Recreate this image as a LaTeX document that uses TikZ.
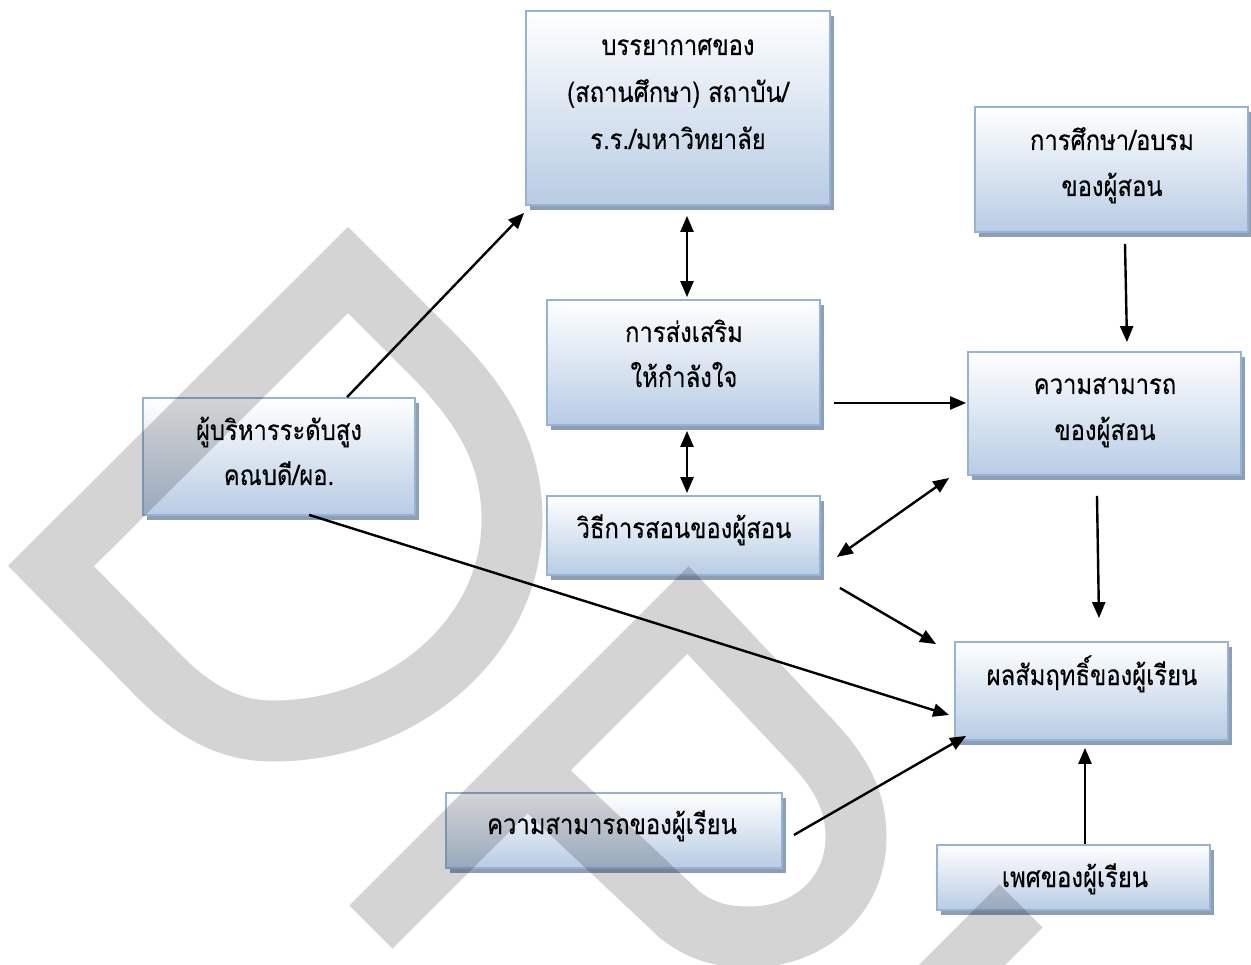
\documentclass[tikz,border=0pt]{standalone}
\usepackage{fontspec}
\newfontfamily\thai[Script=Thai,FakeStretch=0.85,FakeBold=0.25]{Loma}
\usetikzlibrary{shadows,arrows.meta,calc}
\definecolor{boxline}{HTML}{95B3D7}
\definecolor{boxbot}{HTML}{B8CCE4}
\definecolor{shadowc}{HTML}{8E9EB3}
\begin{document}
\begin{tikzpicture}[x=1pt,y=-1pt,
  box/.style={rectangle, draw=boxline, line width=1.8pt, top color=white, bottom color=boxbot, inner sep=0pt,
    drop shadow={shadow xshift=4pt, shadow yshift=-5pt, fill=shadowc, opacity=1}},
  txt/.style={anchor=base, inner sep=0pt, font=\thai\fontsize{28}{32}\selectfont},
  arr/.style={line width=2.4pt, -{Triangle[length=16pt,width=13pt]}},
  darr/.style={line width=2.4pt, {Triangle[length=16pt,width=13pt]}-{Triangle[length=16pt,width=13pt]}},
  wm/.style={line width=61pt, draw=black, draw opacity=0.17, line join=miter}]
\useasboundingbox (0,0) rectangle (1251,965);

% boxes
\node[box, minimum width=304pt, minimum height=194pt] (top) at (678,108) {};
\node[box, minimum width=273pt, minimum height=125pt] (train) at (1111.5,169.5) {};
\node[box, minimum width=273pt, minimum height=125pt] (promote) at (683.5,362.5) {};
\node[box, minimum width=272pt, minimum height=117pt] (boss) at (279,456.5) {};
\node[box, minimum width=273pt, minimum height=123pt] (tcap) at (1104.5,413.5) {};
\node[box, minimum width=273pt, minimum height=79pt] (method) at (683.5,535.5) {};
\node[box, minimum width=273pt, minimum height=98pt] (achieve) at (1091.5,691) {};
\node[box, minimum width=336pt, minimum height=75pt] (scap) at (614,830.5) {};
\node[box, minimum width=273pt, minimum height=65pt] (gender) at (1073.5,877.5) {};

% texts
\node[txt] (top1) at (678,55) {บรรยากาศของ};
\node[txt] (top2) at (678,102) {(สถานศึกษา) สถาบัน/};
\node[txt] (top3) at (678,149) {ร.ร./มหาวิทยาลัย};
\node[txt] (train1) at (1112,150) {การศึกษา/อบรม};
\node[txt] (train2) at (1112,196) {ของผู้สอน};
\node[txt] (prom1) at (684,342) {การส่งเสริม};
\node[txt] (prom2) at (684,387) {ให้กำลังใจ};
\node[txt] (boss1) at (279,440) {ผู้บริหารระดับสูง};
\node[txt] (boss2) at (279,485) {คณบดี/ผอ.};
\node[txt] (tcap1) at (1105,394) {ความสามารถ};
\node[txt] (tcap2) at (1105,440) {ของผู้สอน};
\node[txt] (meth1) at (684,538) {วิธีการสอนของผู้สอน};
\node[txt] (ach1) at (1092,685) {ผลสัมฤทธิ์ของผู้เรียน};
\node[txt] (scap1) at (612,834) {ความสามารถของผู้เรียน};
\node[txt] (gen1) at (1075,887) {เพศของผู้เรียน};

% connectors
\draw[arr] ($(boss.north west)+(205,0)$) -- ($(top.south west)+(-1,7)$);
\draw[arr] ($(boss.south west)+(167,-1)$) -- ($(achieve.west)+(-5,24)$);
\draw[darr] ($(top.south)+(9,10)$) -- ($(promote.north)+(3.5,-2)$);
\draw[darr] ($(promote.south)+(3.5,5)$) -- ($(method.north)+(3.5,-2)$);
\draw[arr] ($(promote.east)+(13,40.5)$) -- ($(tcap.west)+(-1,-10.5)$);
\draw[arr] ($(train.south)+(13.5,11)$) -- ($(tcap.north)+(22.5,-9)$);
\draw[darr] ($(method.east)+(16,21.5)$) -- ($(tcap.south west)+(-18,2)$);
\draw[arr] ($(method.south east)+(19,12)$) -- ($(achieve.north west)+(-18,3)$);
\draw[arr] ($(tcap.south)+(-7.5,20)$) -- ($(achieve.north)+(7.5,-23)$);
\draw[arr] ($(scap.east)+(11,4.5)$) -- ($(achieve.south west)+(12,-5)$);
\draw[arr] ($(gender.north)+(11.5,0)$) -- ($(achieve.south)+(-6.5,7)$);

% watermark
\begin{scope}
\clip (0,0) rectangle (1251,965);
\draw[wm] (348,270) -- (51,566) -- (160,677) .. controls (200,717) and (235,731) .. (273,731)
  .. controls (400,731) and (512,640) .. (512,520) .. controls (512,450) and (480,400) .. (420,342) -- cycle;
\draw[wm] (371,927) -- (688,610) -- (812,742) .. controls (840,772) and (856,800) .. (856,837)
  .. controls (856,895) and (810,937) .. (750,937) .. controls (718,937) and (700,930) .. (680,915) -- (527,771);
\draw[wm] (1021,906) -- (911,1016);
\end{scope}
\end{tikzpicture}
\end{document}
